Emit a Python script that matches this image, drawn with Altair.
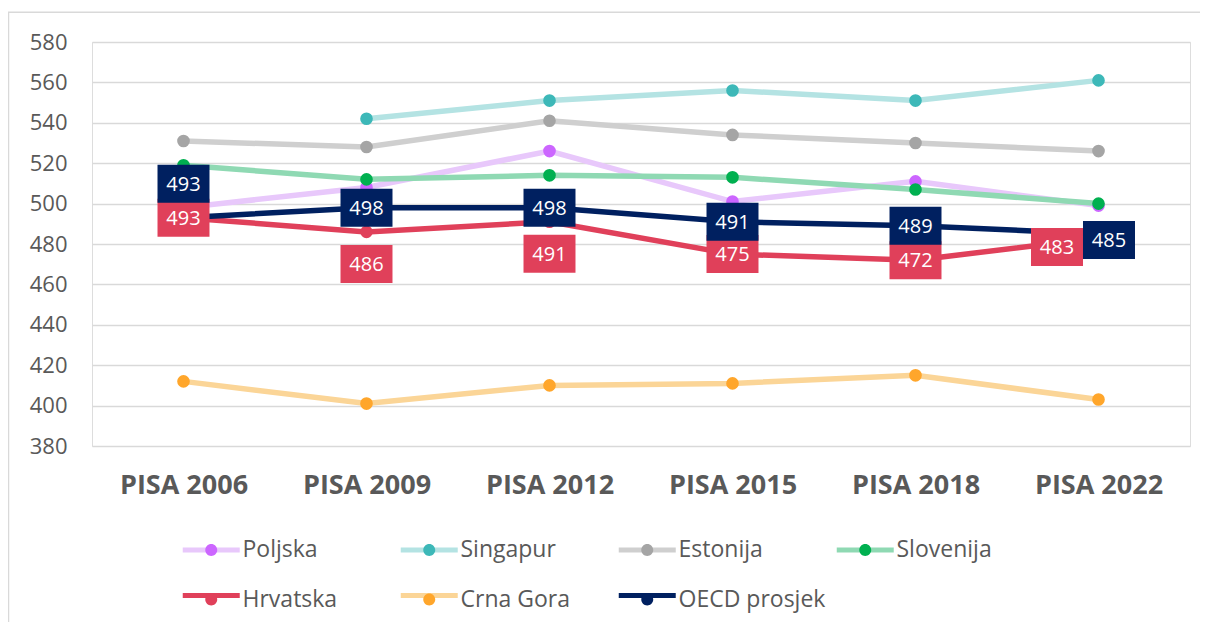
import altair as alt
import pandas as pd

# ---------------- data ----------------
YEARS = ["PISA 2006", "PISA 2009", "PISA 2012", "PISA 2015", "PISA 2018", "PISA 2022"]
SERIES = ["Poljska", "Singapur", "Estonija", "Slovenija", "Hrvatska", "Crna Gora", "OECD prosjek"]

POLJSKA = [498, 508, 526, 501, 511, 499]
SINGAPUR = [None, 542, 551, 556, 551, 561]
ESTONIJA = [531, 528, 541, 534, 530, 526]
SLOVENIJA = [519, 512, 514, 513, 507, 500]
HRVATSKA = [493, 486, 491, 475, 472, 483]
CRNA_GORA = [412, 401, 410, 411, 415, 403]
OECD = [493, 498, 498, 491, 489, 485]

Y_TICKS = [380, 400, 420, 440, 460, 480, 500, 520, 540, 560, 580]

# Excel-style data label placement for the labelled series
HR_LABEL_POS = ["center", "below", "below", "center", "center", "left"]
OECD_LABEL_POS = ["above", "center", "center", "center", "center", "right"]

# ---------------- styles ----------------
LINE_COLORS = ["#E8C8FB", "#B4E3E3", "#CFCFCF", "#8FD9B3", "#E0405A", "#FBD597", "#002060"]
DOT_COLORS = ["#CC66FF", "#3DB8B8", "#A5A5A5", "#00B050", "#E0405A", "#FFA62B", "#002060"]
FONT = "Open Sans"
TEXT_COLOR = "#595959"
GRID_COLOR = "#D9D9D9"

values = [POLJSKA, SINGAPUR, ESTONIJA, SLOVENIJA, HRVATSKA, CRNA_GORA, OECD]
rows = []
for si, (name, vals) in enumerate(zip(SERIES, values)):
    for yi, (yr, v) in enumerate(zip(YEARS, vals)):
        if v is None:
            continue
        pos = ""
        if name == "Hrvatska":
            pos = HR_LABEL_POS[yi]
        elif name == "OECD prosjek":
            pos = OECD_LABEL_POS[yi]
        rows.append({"series": name, "dot": name, "year": yr, "value": v,
                     "order": si, "pos": pos})
df = pd.DataFrame(rows)

x_enc = alt.X("year:N", sort=YEARS, scale=alt.Scale(type="point", padding=0.5),
              axis=alt.Axis(title=None, labelAngle=0, labelFont=FONT, labelFontSize=27,
                            labelFontWeight="bold", labelColor=TEXT_COLOR, labelPadding=26,
                            domain=False, ticks=False, grid=False))
y_enc = alt.Y("value:Q", scale=alt.Scale(domain=[380, 580], nice=False, zero=False),
              axis=alt.Axis(title=None, values=Y_TICKS, labelFont=FONT, labelFontSize=22,
                            labelColor=TEXT_COLOR, labelPadding=25, domain=False, ticks=False,
                            grid=True, gridColor=GRID_COLOR, gridWidth=1.5))

# legend symbols (unit = sqrt(size)/2 px)
LEG_SIZE = 812  # unit = 14.25 px
LINE_PATH = "M-1,0H3"
DOT_PATH = "M-1,0H3M1.42,0A0.42,0.42,0,1,1,0.58,0A0.42,0.42,0,1,1,1.42,0Z"
leg_common = dict(title=None, orient="none", legendX=88, legendY=491, columns=4,
                  direction="horizontal", symbolStrokeWidth=5,
                  symbolSize=LEG_SIZE, labelOffset=28.5, labelFont=FONT, labelFontSize=23,
                  labelColor=TEXT_COLOR, gridAlign="all", columnPadding=0, rowPadding=16.5,
                  padding=0, symbolOpacity=1)

lines = alt.Chart(df).mark_line(strokeWidth=5.5, strokeCap="round").encode(
    x=x_enc, y=y_enc,
    stroke=alt.Stroke("series:N", scale=alt.Scale(domain=SERIES, range=LINE_COLORS),
                      legend=alt.Legend(symbolType=LINE_PATH, labelOpacity=0, **leg_common)),
    order=alt.Order("order:Q"),
)

points = alt.Chart(df).mark_circle(size=160, opacity=1).encode(
    x=x_enc, y=y_enc,
    fill=alt.Fill("dot:N", scale=alt.Scale(domain=SERIES, range=DOT_COLORS),
                  legend=alt.Legend(symbolType=DOT_PATH, symbolStrokeColor="transparent",
                                    **leg_common)),
)

# label boxes: 52 x 38 px, offsets per Excel placement
BOX_SIZE = 1444  # unit = 19 px
OFFSETS = {"center": (0, 0), "below": (0, 32), "above": (0, -34),
           "left": (-41.5, 9), "right": (10.5, 6)}


def rect_path(dx, dy, w=52, h=38, unit=19.0):
    x0, x1 = (dx - w / 2) / unit, (dx + w / 2) / unit
    y0, y1 = (dy - h / 2) / unit, (dy + h / 2) / unit
    return f"M{x0:.3f},{y0:.3f}H{x1:.3f}V{y1:.3f}H{x0:.3f}Z"


label_layers = []
for name, color in [("Hrvatska", "#E0405A"), ("OECD prosjek", "#002060")]:
    for pos, (dx, dy) in OFFSETS.items():
        base = alt.Chart(df).transform_filter(
            (alt.datum.series == name) & (alt.datum.pos == pos))
        box = base.mark_point(shape=rect_path(dx, dy), size=BOX_SIZE, filled=True,
                              fill=color, opacity=1, strokeWidth=0).encode(x=x_enc, y=y_enc)
        txt = base.mark_text(dx=dx, dy=dy + 1, font=FONT, fontSize=20, color="white",
                             align="center", baseline="middle").encode(
            x=x_enc, y=y_enc, text=alt.Text("value:Q", format="d"))
        label_layers += [box, txt]

# chart-area frame (decoration, as in the Excel chart border)
frame = alt.Chart(pd.DataFrame({"f": [0]})).mark_rect(
    fill=None, stroke=GRID_COLOR, strokeWidth=1.5
).encode(x=alt.value(-83.5), x2=alt.value(1140), y=alt.value(-29.7), y2=alt.value(700))

chart = alt.layer(frame, lines, points, *label_layers).resolve_scale(
    stroke="independent", fill="independent"
).properties(
    width=1098, height=404,
    autosize=alt.AutoSizeParams(type="none"),
    padding={"left": 84, "top": 34, "right": 10, "bottom": 176},
).configure_view(stroke=None).configure(font=FONT)

chart.save("out.html", embed_options={"renderer": "svg", "actions": False})
